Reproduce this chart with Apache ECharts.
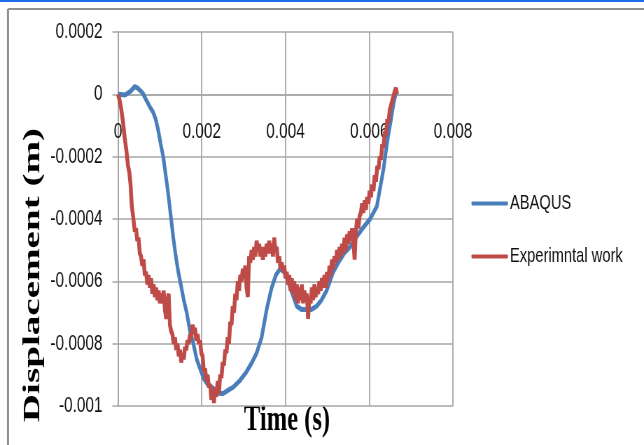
<!DOCTYPE html>
<html>
<head>
<meta charset="utf-8">
<script src="https://cdn.jsdelivr.net/npm/echarts@6/dist/echarts.min.js"></script>
<style>
html,body{margin:0;padding:0;background:#fff;overflow:hidden}
#wrap{width:644px;height:445px;overflow:hidden;position:relative}
#c{width:920px;height:445px;transform:scaleX(0.7);transform-origin:0 0;position:absolute;left:0;top:0}
</style>
</head>
<body>
<div id="wrap"><div id="c"></div></div>
<script>
const seriesNames = ["ABAQUS", "Experimntal work"];
const xTicks = [0, 0.002, 0.004, 0.006, 0.008];
const xTickLabels = ["0", "0.002", "0.004", "0.006", "0.008"];
const yTicks = [-0.001, -0.0008, -0.0006, -0.0004, -0.0002, 0, 0.0002];
const yTickLabels = ["-0.001", "-0.0008", "-0.0006", "-0.0004", "-0.0002", "0", "0.0002"];

const blueTime = [0,0.00017,0.0003,0.0004,0.00047,0.00053,0.0006,0.00068,0.00076,0.00084,0.0009,0.00096,0.00102,0.00108,
0.00114,0.0012,0.00126,0.00132,0.00138,0.00144,0.0015,0.00157,0.00164,0.00172,0.0018,0.00188,0.00196,0.00204,0.00214,
0.00224,0.00234,0.00244,0.00251,0.00262,0.00275,0.0029,0.00307,0.0032,0.00331,0.00343,0.00355,0.00367,0.00377,0.00387,
0.00397,0.00404,0.00411,0.00419,0.00427,0.00438,0.0045,0.00462,0.00474,0.00486,0.00498,0.00506,0.00514,0.00526,0.0054,
0.00554,0.00568,0.00584,0.00602,0.0061,0.00618,0.00626,0.00634,0.0064,0.00646,0.00652,0.00658,0.00665];
const blueDisp = [0,-0.000002,0.00001,0.000025,0.00002,0.000012,0.000002,-0.00002,-0.00004,-0.000058,-0.00008,-0.000115,-0.00016,-0.0002,
-0.00026,-0.00032,-0.00039,-0.00046,-0.00052,-0.00057,-0.00061,-0.00066,-0.0007,-0.00076,-0.0008,-0.00085,-0.00088,-0.00091,-0.00093,
-0.00094,-0.00095,-0.00096,-0.00096,-0.00095,-0.00094,-0.00092,-0.00089,-0.00086,-0.00083,-0.00078,-0.00069,-0.00062,-0.00058,-0.00056,
-0.00057,-0.00059,-0.00062,-0.00065,-0.00068,-0.00069,-0.00069,-0.00069,-0.00068,-0.00066,-0.00063,-0.0006,-0.00057,-0.00054,-0.00051,
-0.00049,-0.00046,-0.00043,-0.0004,-0.00038,-0.00036,-0.0003,-0.00024,-0.00018,-0.000125,-0.00008,-0.00003,0.000014];

const redTime = [0,0.00004,0.00008,0.00012,0.00016,0.0002,0.00024,0.00027,0.0003,0.00033,0.00036,0.0004,0.00043,0.00046,0.00049,
0.00052,0.00055,0.00058,0.00061,0.00064,0.00067,0.0007,0.00073,0.00076,0.00079,0.00082,0.00085,0.00088,0.00091,0.00094,0.00097,
0.001,0.00103,0.00106,0.00109,0.00112,0.00115,0.00118,0.00121,0.00124,0.00127,0.0013,0.00133,0.00136,0.00139,0.00142,0.00145,
0.00148,0.00151,0.00154,0.00157,0.0016,0.00163,0.00166,0.00169,0.00172,0.00175,0.00178,0.00181,0.00184,0.00187,0.0019,0.00193,
0.00196,0.00199,0.00202,0.00205,0.00208,0.00211,0.00214,0.00217,0.0022,0.00223,0.00226,0.00229,0.00232,0.00235,0.00238,0.00241,
0.00244,0.00247,0.0025,0.00253,0.00256,0.00259,0.00262,0.00265,0.00268,0.00271,0.00274,0.00277,0.0028,0.00283,0.00286,0.00289,
0.00292,0.00295,0.00298,0.00301,0.00304,0.00307,0.0031,0.00313,0.00316,0.00319,0.00322,0.00325,0.00328,0.00331,0.00334,0.00337,
0.0034,0.00343,0.00346,0.00349,0.00352,0.00355,0.00358,0.00361,0.00364,0.00367,0.0037,0.00373,0.00376,0.00379,0.00382,0.00385,
0.00388,0.00391,0.00394,0.00397,0.004,0.00403,0.00406,0.00409,0.00412,0.00415,0.00418,0.00421,0.00424,0.00427,0.0043,0.00433,
0.00436,0.00439,0.00442,0.00445,0.00448,0.00451,0.00454,0.00457,0.0046,0.00463,0.00466,0.00469,0.00472,0.00475,0.00478,0.00481,
0.00484,0.00487,0.0049,0.00493,0.00496,0.00499,0.00502,0.00505,0.00508,0.00511,0.00514,0.00517,0.0052,0.00523,0.00526,0.00529,
0.00532,0.00535,0.00538,0.00541,0.00544,0.00547,0.0055,0.00553,0.00556,0.00559,0.00562,0.00565,0.00568,0.00571,0.00574,0.00577,
0.0058,0.00583,0.00586,0.00589,0.00592,0.00595,0.00598,0.00601,0.00604,0.00607,0.0061,0.00613,0.00616,0.00619,0.00622,0.00625,
0.00628,0.00631,0.00634,0.00637,0.0064,0.00643,0.00646,0.00649,0.00652,0.00655,0.00658,0.00661,0.00664,0.00666];
const redDisp = [0,-0.00002,-0.00005,-0.00009,-0.00014,-0.00018,-0.00023,-0.00025,-0.00029,-0.00036,-0.00039,-0.00044,-0.00043,-0.00047,-0.00046,
-0.00051,-0.00052,-0.00055,-0.00053,-0.00058,-0.00057,-0.00061,-0.00058,-0.00062,-0.00059,-0.00064,-0.00061,-0.00065,-0.00062,-0.00066,-0.00063,
-0.00067,-0.00064,-0.00067,-0.00063,-0.00069,-0.00072,-0.00066,-0.00064,-0.00074,-0.00076,-0.00077,-0.0008,-0.00078,-0.00082,-0.0008,-0.00084,
-0.00082,-0.00086,-0.00083,-0.00085,-0.00081,-0.00082,-0.00079,-0.0008,-0.00077,-0.00078,-0.00074,-0.00076,-0.00075,-0.00079,-0.00077,-0.0008,
-0.00079,-0.00083,-0.00084,-0.00089,-0.00088,-0.00092,-0.0009,-0.00094,-0.00093,-0.00098,-0.00095,-0.00099,-0.00094,-0.00097,-0.00092,-0.00096,
-0.0009,-0.00091,-0.00086,-0.00087,-0.00082,-0.00083,-0.00078,-0.0008,-0.00073,-0.00074,-0.00068,-0.0007,-0.00064,-0.00066,-0.0006,-0.00063,
-0.00058,-0.0006,-0.00056,-0.00059,-0.00055,-0.00062,-0.00065,-0.00052,-0.00054,-0.0005,-0.00053,-0.00049,-0.00052,-0.00047,-0.0005,-0.00048,
-0.00052,-0.00049,-0.00053,-0.00049,-0.00052,-0.00048,-0.00051,-0.00047,-0.00051,-0.00048,-0.00052,-0.00046,-0.0005,-0.00049,-0.00054,-0.00052,
-0.00056,-0.00054,-0.00057,-0.00055,-0.00059,-0.00057,-0.00061,-0.00058,-0.00063,-0.00059,-0.00064,-0.0006,-0.00066,-0.00061,-0.00067,-0.00062,
-0.00066,-0.00061,-0.00067,-0.00063,-0.00066,-0.00064,-0.00072,-0.00065,-0.00067,-0.00062,-0.00066,-0.00061,-0.00065,-0.00062,-0.00064,-0.0006,
-0.00063,-0.00059,-0.00062,-0.00058,-0.00062,-0.00057,-0.0006,-0.00055,-0.00058,-0.00053,-0.00056,-0.00052,-0.00054,-0.0005,-0.00053,-0.00049,
-0.00052,-0.00048,-0.00051,-0.00046,-0.0005,-0.00045,-0.00048,-0.00044,-0.00047,-0.00043,-0.00047,-0.00053,-0.00044,-0.0004,-0.00043,-0.00039,
-0.00038,-0.00035,-0.00038,-0.00034,-0.00037,-0.00033,-0.00035,-0.00031,-0.00033,-0.00029,-0.00031,-0.00026,-0.00028,-0.00023,-0.00024,-0.0002,
-0.00021,-0.00016,-0.00017,-0.00012,-0.00013,-0.00008,-0.00009,-0.00005,-0.00005,-0.00002,-0.00002,0.00001,0.00002,0];

const blueData = blueTime.map((t, i) => [t, blueDisp[i]]);
const redData = redTime.map((t, i) => [t, redDisp[i]]);

function tickLabel(v, ticks, labels) {
  for (let i = 0; i < ticks.length; i++) {
    if (Math.abs(v - ticks[i]) < 1e-9) return labels[i];
  }
  return "";
}

const SX = 0.7;            // horizontal squeeze of the whole picture (CSS)
const LBL = "'Liberation Sans', Arial, sans-serif";
const GRID = "#a6a6a6";
const GRID_TOP = 32, GRID_BOTTOM = 39, H = 445;
const plotH = H - GRID_TOP - GRID_BOTTOM;
const yMin = -0.001, yMax = 0.0002;
// move the x axis (line + labels) up from the bottom edge to the zero line
const xAxisOffset = -plotH * (0 - yMin) / (yMax - yMin);

const chart = echarts.init(document.getElementById('c'), null, {renderer: 'canvas'});
chart.setOption({
  animation: false,
  backgroundColor: '#ffffff',
  grid: {left: 118 / SX, right: (644 - 453) / SX, top: GRID_TOP, bottom: GRID_BOTTOM, containLabel: false},
  xAxis: {
    type: 'value', min: 0, max: 0.008, interval: 0.002, position: 'bottom', offset: xAxisOffset,
    axisLine: {show: true, onZero: false, lineStyle: {color: GRID, width: 1.5}},
    axisTick: {show: true, length: 5, lineStyle: {color: GRID, width: 1.5}},
    splitLine: {show: true, lineStyle: {color: GRID, width: 1.8}},
    axisLabel: {show: true, margin: 27, fontSize: 22, fontFamily: LBL, color: '#111',
      formatter: v => tickLabel(v, xTicks, xTickLabels)}
  },
  yAxis: {
    type: 'value', min: yMin, max: yMax, interval: 0.0002,
    axisLine: {show: true, onZero: false, lineStyle: {color: GRID, width: 1.8}},
    axisTick: {show: true, length: 8, lineStyle: {color: GRID, width: 1.5}},
    splitLine: {show: true, lineStyle: {color: GRID, width: 1.5}},
    axisLabel: {show: true, margin: 22, fontSize: 22, fontFamily: LBL, color: '#111',
      formatter: v => tickLabel(v, yTicks, yTickLabels)}
  },
  legend: {
    orient: 'vertical', left: 468 / SX, top: 188, itemGap: 32,
    itemWidth: 52, itemHeight: 4, icon: 'roundRect',
    textStyle: {fontSize: 21, fontFamily: LBL, color: '#111', padding: [0, 0, 0, -2]},
    data: seriesNames
  },
  series: [
    {name: seriesNames[0], type: 'line', data: blueData, showSymbol: false, symbol: 'none',
      lineStyle: {color: '#4a7ebb', width: 5}, itemStyle: {color: '#4a7ebb'}, z: 2},
    {name: seriesNames[1], type: 'line', data: redData, showSymbol: false, symbol: 'none',
      lineStyle: {color: '#be4b48', width: 5.5}, itemStyle: {color: '#be4b48'}, z: 3}
  ],
  graphic: [
    {type: 'rect', shape: {x: 0, y: 0, width: 644 / SX, height: 2}, style: {fill: '#1c6fe6'}, silent: true},
    {type: 'line', shape: {x1: 8 / SX, y1: 9, x2: 644 / SX, y2: 9}, style: {stroke: '#8f8f8f', lineWidth: 2}, silent: true},
    {type: 'line', shape: {x1: 8 / SX, y1: 9, x2: 8 / SX, y2: 445}, style: {stroke: '#8f8f8f', lineWidth: 3}, silent: true},
    {type: 'text', x: 287 / SX, y: 421, silent: true,
      style: {text: 'Time (s)', font: "bold 35px 'Liberation Serif', serif", fill: '#000',
        textAlign: 'center', textVerticalAlign: 'middle'}},
    {type: 'text', x: 33 / SX, y: 275, rotation: Math.PI / 2, scaleX: 1.15, silent: true,
      style: {text: 'Displacement (m)', font: "bold 34px 'Liberation Serif', serif", fill: '#000',
        textAlign: 'center', textVerticalAlign: 'middle'}}
  ]
});
</script>
</body>
</html>
